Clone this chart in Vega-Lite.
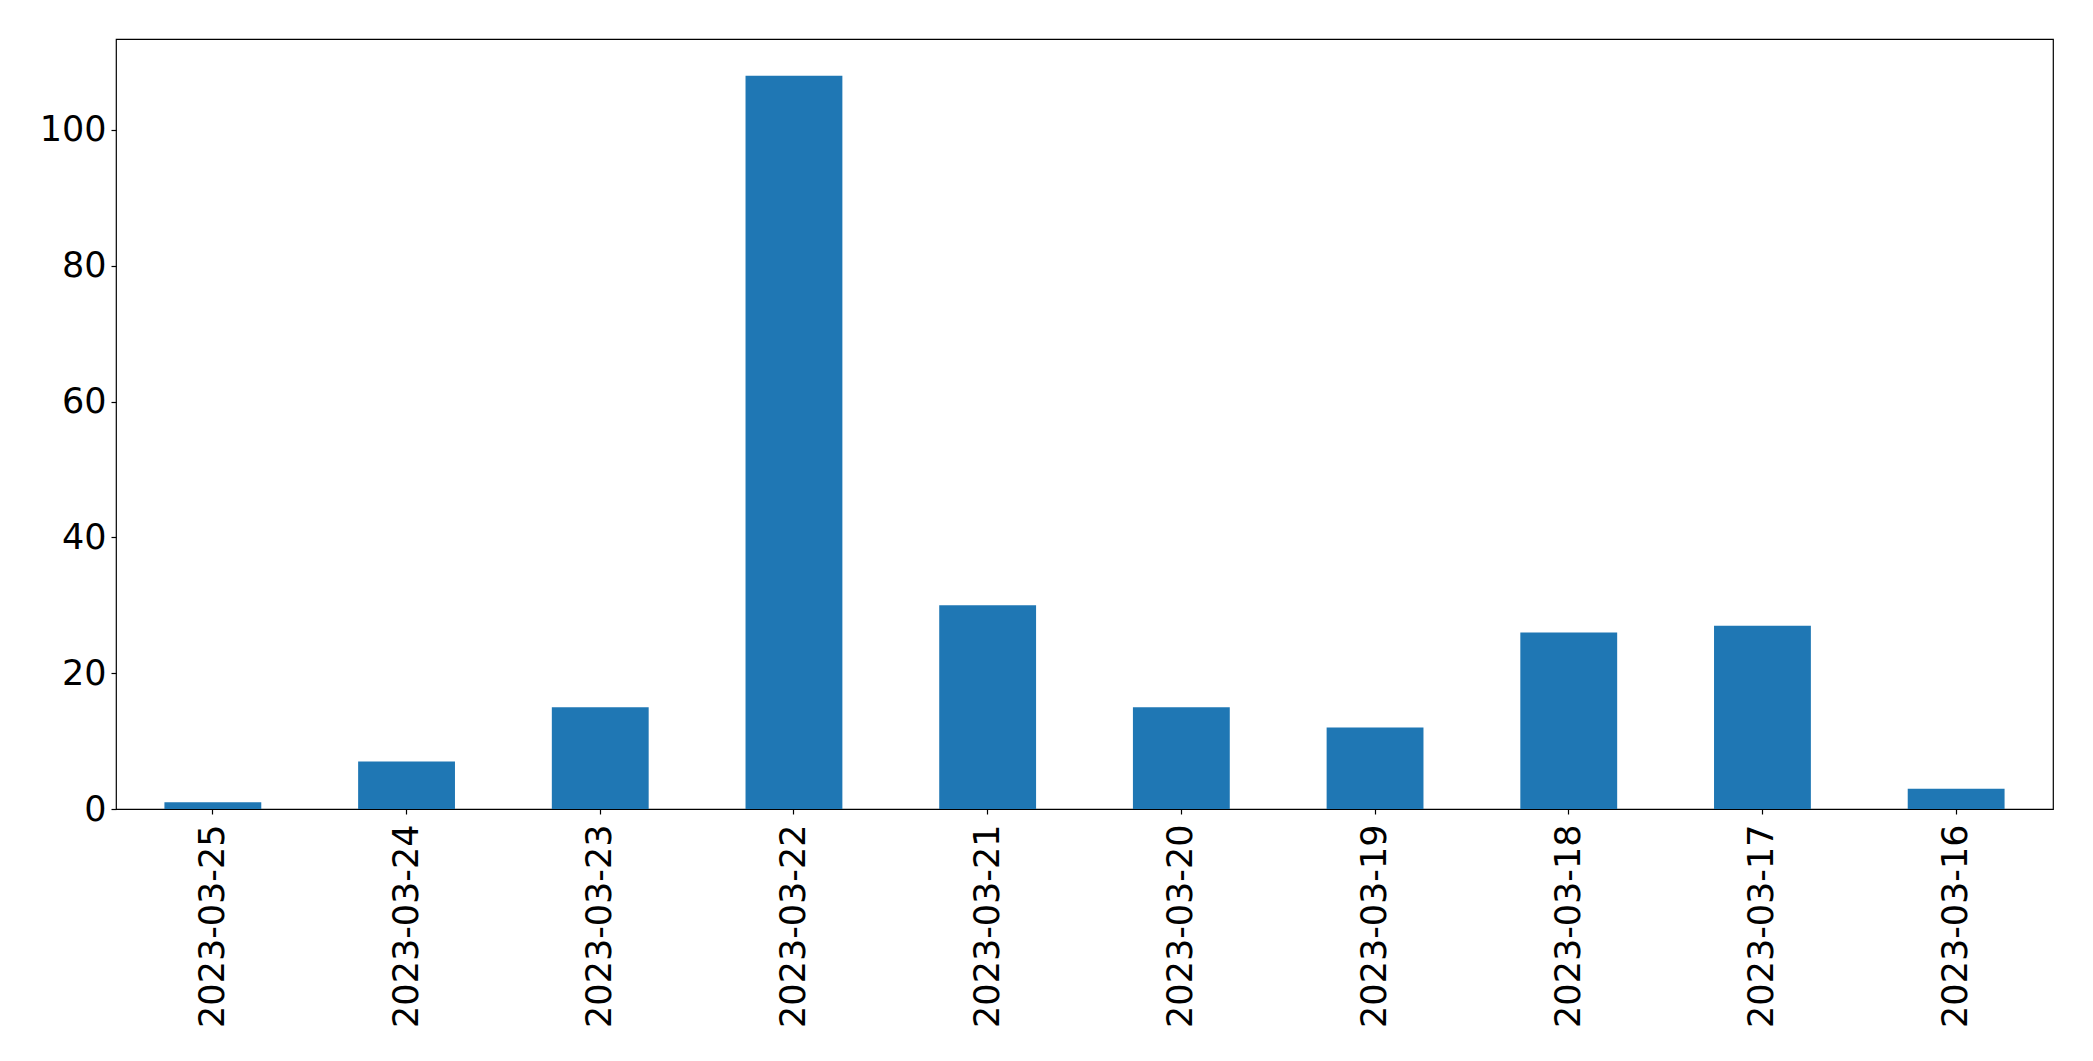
{
  "$schema": "https://vega.github.io/schema/vega-lite/v6.json",
  "width": 1937,
  "height": 770,
  "autosize": {"type": "none"},
  "padding": {"left": 116, "top": 39, "right": 40, "bottom": 252},
  "background": "white",
  "config": {
    "font": "DejaVu Sans",
    "view": {"stroke": "black", "strokeWidth": 1.2},
    "axis": {"grid": false, "domain": false, "tickColor": "black", "tickSize": 5, "tickWidth": 1.2, "labelColor": "black", "labelFont": "DejaVu Sans", "labelFontSize": 35, "labelLimit": 1000, "title": null}
  },
  "data": {
    "values": [
      {"date": "2023-03-25", "count": 1},
      {"date": "2023-03-24", "count": 7},
      {"date": "2023-03-23", "count": 15},
      {"date": "2023-03-22", "count": 108},
      {"date": "2023-03-21", "count": 30},
      {"date": "2023-03-20", "count": 15},
      {"date": "2023-03-19", "count": 12},
      {"date": "2023-03-18", "count": 26},
      {"date": "2023-03-17", "count": 27},
      {"date": "2023-03-16", "count": 3}
    ]
  },
  "mark": {"type": "bar", "color": "#1f77b4"},
  "encoding": {
    "x": {
      "field": "date", "type": "nominal", "sort": null,
      "scale": {"paddingInner": 0.5, "paddingOuter": 0.25},
      "axis": {"labelAngle": -90, "labelAlign": "right", "labelBaseline": "middle", "labelPadding": 10}
    },
    "y": {
      "field": "count", "type": "quantitative",
      "scale": {"domain": [0, 113.4], "nice": false, "zero": true},
      "axis": {"values": [0, 20, 40, 60, 80, 100], "labelPadding": 5}
    }
  }
}
